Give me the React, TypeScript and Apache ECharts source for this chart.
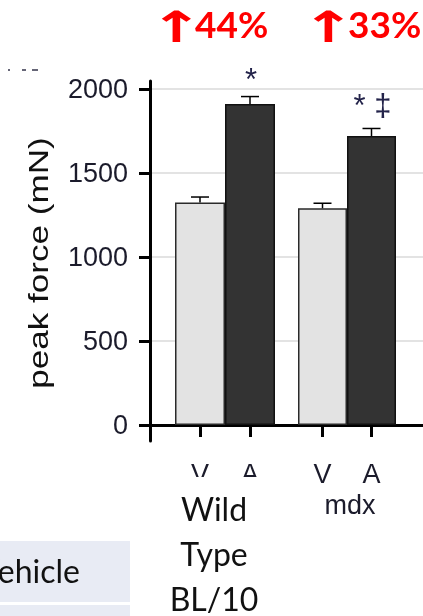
import React, { useEffect, useRef } from "react";
import * as echarts from "echarts";

const treatments = ["V", "A"];
const wtMeans = [1325, 1910];
const wtErrors = [32, 45];
const wtSig = ["", "*"];
const mdxMeans = [1290, 1720];
const mdxErrors = [30, 45];
const mdxSig = ["", "* ‡"];
const yTicks = [0, 500, 1000, 1500, 2000];
const yTitle = "peak force (mN)";
const increases = ["44%", "33%"];
const groupLabels = ["Wild\nType\nBL/10", "mdx"];
const legendLabel = "Vehicle";

const LIGHT = "#e3e3e3";
const DARK = "#333333";
const INK = "#1b1b2b";
const ARIAL = "Liberation Sans, Arial, sans-serif";

function barData(means: number[]) {
  return means.map((v, i) => ({
    value: v,
    itemStyle: {
      color: i === 0 ? LIGHT : DARK,
      borderColor: i === 0 ? "#2a2a2a" : "#111",
      borderWidth: 1.5,
    },
  }));
}

function errData(means: number[], errs: number[]) {
  return means.map((m, i) => [i, m, errs[i]]);
}

function makeRenderErr(sig: string[], gap: number) {
  return function renderErr(params: any, api: any) {
    const idx = api.value(0);
    const mean = api.value(1);
    const err = api.value(2);
    const s = sig[params.dataIndex];
    const base = api.coord([idx, mean]);
    const top = api.coord([idx, mean + err]);
    const children: any[] = [
      { type: "line", shape: { x1: base[0], y1: base[1], x2: top[0], y2: top[1] }, style: { stroke: "#000", lineWidth: 1.5 } },
      { type: "line", shape: { x1: top[0] - 9, y1: top[1], x2: top[0] + 9, y2: top[1] }, style: { stroke: "#000", lineWidth: 1.5 } },
    ];
    if (s) {
      children.push({
        type: "text",
        x: top[0] + 1,
        y: top[1] - gap,
        style: {
          text: s,
          font: "31px " + ARIAL,
          fill: "#23234a",
          textAlign: "center",
          textVerticalAlign: "middle",
          align: "center",
          verticalAlign: "middle",
        },
      });
    }
    return { type: "group", children };
  };
}

export default function App() {
  const ref = useRef<HTMLDivElement>(null);
  useEffect(() => {
    if (!ref.current) return;
    const chart = echarts.init(ref.current, null, { renderer: "svg" });
    const yMin = yTicks[0];
    const yMax = yTicks[yTicks.length - 1];
    const pxPerUnit = 336 / (yMax - yMin);
    const frameMin = yMin - 16 / pxPerUnit;
    const frameMax = yMax + 8 / pxPerUnit;
    const hiddenY = (gi: number) => ({ gridIndex: gi, type: "value", min: yMin, max: yMax, show: false });
    const catX = (gi: number, name: string) => ({
      gridIndex: gi,
      type: "category",
      data: treatments,
      offset: 16,
      axisLine: { show: false },
      axisTick: { show: true, alignWithLabel: true, length: 12, lineStyle: { color: "#000", width: 3 } },
      axisLabel: { fontSize: 27, fontFamily: ARIAL, color: INK, margin: 19 },
      name,
      nameLocation: "middle",
      nameGap: 49,
      nameTextStyle: { fontSize: 27, fontFamily: ARIAL, color: INK, padding: [0, 0, 0, 6] },
    });
    const option: any = {
      animation: false,
      grid: [
        { left: 150, right: 0, top: 81, bottom: 175 },
        { left: 150, right: 0, top: 89, bottom: 191 },
        { left: 175, width: 100, top: 89, bottom: 191 },
        { left: 298, width: 98, top: 89, bottom: 191 },
      ],
      xAxis: [
        { gridIndex: 0, type: "value", min: 0, max: 1, axisLine: { show: true, lineStyle: { color: "#000", width: 3 } }, axisTick: { show: false }, axisLabel: { show: false }, splitLine: { show: false } },
        { gridIndex: 1, type: "value", min: 0, max: 1, show: false },
        catX(2, ""),
        catX(3, groupLabels[1]),
      ],
      yAxis: [
        { gridIndex: 0, type: "value", min: frameMin, max: frameMax, axisLine: { show: true, lineStyle: { color: "#000", width: 3 } }, axisTick: { show: false }, axisLabel: { show: false }, splitLine: { show: false } },
        {
          gridIndex: 1,
          type: "value",
          min: yMin,
          max: yMax,
          interval: 500,
          axisLine: { show: false },
          axisTick: { show: true, length: 11, lineStyle: { color: "#000", width: 3 } },
          axisLabel: { fontSize: 27, fontFamily: ARIAL, color: INK, margin: 22, formatter: (v: number) => String(v) },
          splitLine: { show: true, lineStyle: { color: "#dadada", width: 1.5 } },
        },
        hiddenY(2),
        hiddenY(3),
      ],
      series: [
        { type: "bar", xAxisIndex: 2, yAxisIndex: 2, data: barData(wtMeans), barWidth: "100%", barCategoryGap: 0, z: 2 },
        { type: "bar", xAxisIndex: 3, yAxisIndex: 3, data: barData(mdxMeans), barWidth: "100%", barCategoryGap: 0, z: 2 },
        { type: "custom", xAxisIndex: 2, yAxisIndex: 2, data: errData(wtMeans, wtErrors), renderItem: makeRenderErr(wtSig, 17), encode: { x: 0, y: 1 }, z: 3 },
        { type: "custom", xAxisIndex: 3, yAxisIndex: 3, data: errData(mdxMeans, mdxErrors), renderItem: makeRenderErr(mdxSig, 23), encode: { x: 0, y: 1 }, z: 3 },
      ],
      graphic: [
        // y-axis title
        {
          type: "text",
          x: 39,
          y: 263,
          rotation: Math.PI / 2,
          scaleX: 1.3,
          z: 100,
          style: {
            text: yTitle,
            font: "27px " + ARIAL,
            fill: "#111",
            textAlign: "center",
            textVerticalAlign: "middle",
            align: "center",
            verticalAlign: "middle",
          },
        },
        // red increase labels
        { type: "text", x: 176, y: 27, scaleX: 1.5, z: 100, style: { text: "↑", font: "bold 43px DejaVu Sans, sans-serif", fill: "#ff0000", textAlign: "center", textVerticalAlign: "middle", align: "center", verticalAlign: "middle" } },
        { type: "text", x: 195, y: 23, z: 100, style: { text: increases[0], font: "bold 37px Lato, Open Sans, sans-serif", fill: "#ff0000", textAlign: "left", textVerticalAlign: "middle", align: "left", verticalAlign: "middle" } },
        { type: "text", x: 328, y: 27, scaleX: 1.5, z: 100, style: { text: "↑", font: "bold 43px DejaVu Sans, sans-serif", fill: "#ff0000", textAlign: "center", textVerticalAlign: "middle", align: "center", verticalAlign: "middle" } },
        { type: "text", x: 348, y: 23, z: 100, style: { text: increases[1], font: "bold 37px Lato, Open Sans, sans-serif", fill: "#ff0000", textAlign: "left", textVerticalAlign: "middle", align: "left", verticalAlign: "middle" } },
        // cropped marks top-left
        { type: "rect", z: 100, shape: { x: 8, y: 69, width: 2, height: 2 }, style: { fill: "#667" } },
        { type: "rect", z: 100, shape: { x: 22, y: 69, width: 4, height: 2 }, style: { fill: "#667" } },
        { type: "rect", z: 100, shape: { x: 32, y: 69, width: 6, height: 2 }, style: { fill: "#667" } },
        // white overlay box with group label
        { type: "rect", z: 100, shape: { x: 172, y: 477, width: 118, height: 139 }, style: { fill: "#ffffff" } },
        {
          type: "text",
          x: 214,
          y: 486,
          z: 101,
          style: {
            text: groupLabels[0],
            font: "32px Lato, Open Sans, sans-serif",
            lineHeight: 45,
            fill: "#111",
            textAlign: "center",
            textVerticalAlign: "top",
            align: "center",
            verticalAlign: "top",
          },
        },
        // legend-ish boxes
        { type: "rect", z: 100, shape: { x: 0, y: 541, width: 130, height: 61 }, style: { fill: "#e8ebf4" } },
        { type: "rect", z: 100, shape: { x: 0, y: 605, width: 130, height: 11 }, style: { fill: "#e8ebf4" } },
        {
          type: "text",
          x: 80,
          y: 586,
          z: 101,
          style: {
            text: legendLabel,
            font: "32px Lato, Open Sans, sans-serif",
            fill: "#111",
            textAlign: "right",
            textVerticalAlign: "bottom",
            align: "right",
            verticalAlign: "bottom",
          },
        },
      ],
    };
    chart.setOption(option);
    return () => chart.dispose();
  }, []);
  return <div ref={ref} style={{ position: "fixed", left: 0, top: 0, width: 423, height: 616 }} />;
}
